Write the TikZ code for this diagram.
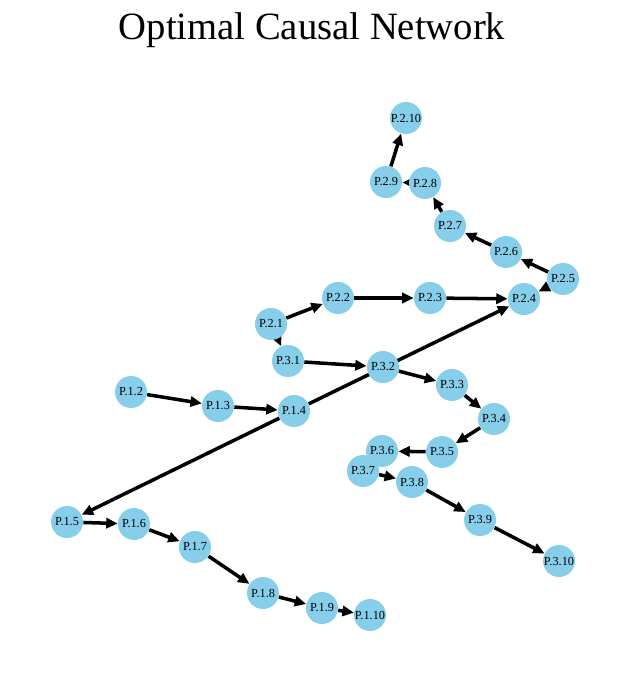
\documentclass[tikz,border=0pt]{standalone}
\usepackage{fontspec}
\setmainfont{Liberation Serif}
\usetikzlibrary{arrows.meta,backgrounds}

\begin{document}
\begin{tikzpicture}[x=0.02cm,y=-0.02cm,
  var/.style={circle,fill=skyblue,minimum size=0.64cm,inner sep=0pt,font=\fontsize{7}{8}\selectfont},
  link/.style={line width=2pt,-{Triangle[length=6.5pt,width=5.8pt]}}]
\definecolor{skyblue}{RGB}{135,206,235}
\useasboundingbox (0,0) rectangle (629,682);
\node (title) at (312,30) {\fontsize{22}{26}\selectfont Optimal Causal Network};
\node [var] (p1_2) at (131,392) {P.1.2};
\node [var] (p1_3) at (218,406) {P.1.3};
\node [var] (p1_4) at (294,411) {P.1.4};
\node [var] (p1_5) at (67,522) {P.1.5};
\node [var] (p1_6) at (134,524) {P.1.6};
\node [var] (p1_7) at (195,547) {P.1.7};
\node [var] (p1_8) at (263,593) {P.1.8};
\node [var] (p1_9) at (322,608) {P.1.9};
\node [var] (p1_10) at (370,615) {P.1.10};
\node [var] (p2_1) at (271,324) {P.2.1};
\node [var] (p2_2) at (338,298) {P.2.2};
\node [var] (p2_3) at (430,298) {P.2.3};
\node [var] (p2_4) at (524,299) {P.2.4};
\node [var] (p2_5) at (563,279) {P.2.5};
\node [var] (p2_6) at (506,252) {P.2.6};
\node [var] (p2_7) at (450,226) {P.2.7};
\node [var] (p2_8) at (425,183) {P.2.8};
\node [var] (p2_9) at (386,182) {P.2.9};
\node [var] (p2_10) at (406,118) {P.2.10};
\node [var] (p3_1) at (288,361) {P.3.1};
\node [var] (p3_2) at (383,367) {P.3.2};
\node [var] (p3_3) at (452,385) {P.3.3};
\node [var] (p3_4) at (494,419) {P.3.4};
\node [var] (p3_5) at (442,452) {P.3.5};
\node [var] (p3_6) at (382,451) {P.3.6};
\node [var] (p3_7) at (363,471) {P.3.7};
\node [var] (p3_8) at (412,482) {P.3.8};
\node [var] (p3_9) at (480,520) {P.3.9};
\node [var] (p3_10) at (559,561) {P.3.10};
\begin{pgfonlayer}{background}
\draw [link] (p1_2) -- (p1_3);
\draw [link] (p1_3) -- (p1_4);
\draw [link] (p1_4) -- (p1_5);
\draw [link] (p1_4) -- (p2_4);
\draw [link] (p1_5) -- (p1_6);
\draw [link] (p1_6) -- (p1_7);
\draw [link] (p1_7) -- (p1_8);
\draw [link] (p1_8) -- (p1_9);
\draw [link] (p1_9) -- (p1_10);
\draw [link] (p2_1) -- (p2_2);
\draw [link] (p2_1) -- (p3_1);
\draw [link] (p2_2) -- (p2_3);
\draw [link] (p2_3) -- (p2_4);
\draw [link] (p2_5) -- (p2_4);
\draw [link] (p2_5) -- (p2_6);
\draw [link] (p2_6) -- (p2_7);
\draw [link] (p2_7) -- (p2_8);
\draw [link] (p2_8) -- (p2_9);
\draw [link] (p2_9) -- (p2_10);
\draw [link] (p3_1) -- (p3_2);
\draw [link] (p3_2) -- (p3_3);
\draw [link] (p3_3) -- (p3_4);
\draw [link] (p3_4) -- (p3_5);
\draw [link] (p3_5) -- (p3_6);
\draw [link] (p3_7) -- (p3_8);
\draw [link] (p3_8) -- (p3_9);
\draw [link] (p3_9) -- (p3_10);
\end{pgfonlayer}
\end{tikzpicture}
\end{document}
